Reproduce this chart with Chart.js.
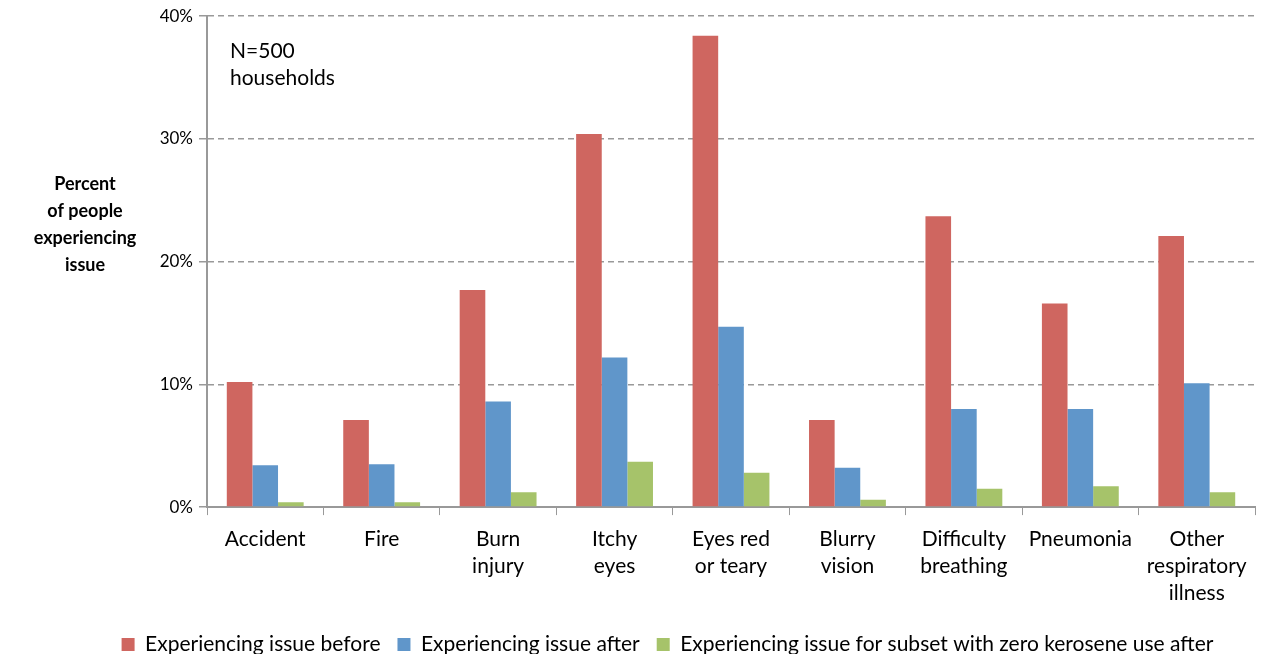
<!DOCTYPE html>
<html>
<head>
<meta charset="utf-8">
<script src="https://cdn.jsdelivr.net/npm/chart.js@4.4.1/dist/chart.umd.min.js"></script>
<style>
  body { margin: 0; background: #fff; }
  #wrap { width: 1263px; height: 654px; }
</style>
</head>
<body>
<div id="wrap"><canvas id="healthchart"></canvas></div>
<script>
const categories = [
  "Accident", "Fire", ["Burn", "injury"], ["Itchy", "eyes"], ["Eyes red", "or teary"],
  ["Blurry", "vision"], ["Difficulty", "breathing"], "Pneumonia", ["Other", "respiratory", "illness"]
];
const before = [10.2, 7.1, 17.7, 30.4, 38.4, 7.1, 23.7, 16.6, 22.1];
const after = [3.4, 3.5, 8.6, 12.2, 14.7, 3.2, 8.0, 8.0, 10.1];
const zeroKerosene = [0.4, 0.4, 1.2, 3.7, 2.8, 0.6, 1.5, 1.7, 1.2];
const yTicks = [0, 10, 20, 30, 40];

const fontName = "Lato, 'Open Sans', sans-serif";

// y title and N note are plain text drawn beside the plot
const sideText = {
  id: "sideText",
  afterDraw(chart) {
    const ctx = chart.ctx;
    ctx.save();
    ctx.fillStyle = "#000";
    ctx.textAlign = "center";
    ctx.textBaseline = "middle";
    ctx.font = "bold 18px " + fontName;
    const lines = ["Percent", "of people", "experiencing", "issue"];
    lines.forEach((t, i) => ctx.fillText(t, 85, 184 + i * 27));
    ctx.textAlign = "left";
    ctx.font = "21px " + fontName;
    ctx.fillText("N=500", 230, 51);
    ctx.fillText("households", 230, 78);
    ctx.restore();
  }
};

new Chart("healthchart", {
  type: "bar",
  data: {
    labels: categories,
    datasets: [
      { label: "Experiencing issue before", data: before, backgroundColor: "#CF6660" },
      { label: "Experiencing issue after", data: after, backgroundColor: "#6096CA" },
      { label: "Experiencing issue for subset with zero kerosene use after", data: zeroKerosene, backgroundColor: "#A6C36A" }
    ]
  },
  options: {
    responsive: true,
    maintainAspectRatio: false,
    animation: false,
    layout: { padding: { left: 80, right: 8, top: 3, bottom: -11 } },
    datasets: { bar: { categoryPercentage: 0.66, barPercentage: 1 } },
    plugins: {
      tooltip: { enabled: false },
      legend: {
        position: "bottom",
        labels: {
          color: "#000",
          font: { family: fontName, size: 21 },
          boxWidth: 13, boxHeight: 13, padding: 17
        }
      }
    },
    scales: {
      x: {
        grid: { display: true, drawOnChartArea: false, offset: true, color: "#999", tickLength: 8 },
        border: { color: "#999", width: 2 },
        ticks: { color: "#000", font: { family: fontName, size: 21, lineHeight: 1.3 }, maxRotation: 0, padding: 10 }
      },
      y: {
        min: 0, max: 40,
        afterBuildTicks(axis) { axis.ticks = yTicks.map(v => ({ value: v })); },
        afterFit(axis) { axis.width = 127; },
        grid: { color: "#999", lineWidth: 1.5, tickLength: 8 },
        border: { color: "#999", width: 2, dash: [6, 4] },
        ticks: { color: "#000", font: { family: fontName, size: 17 }, padding: 6,
          callback: v => v + "%" }
      }
    }
  },
  plugins: [sideText]
});
</script>
</body>
</html>
